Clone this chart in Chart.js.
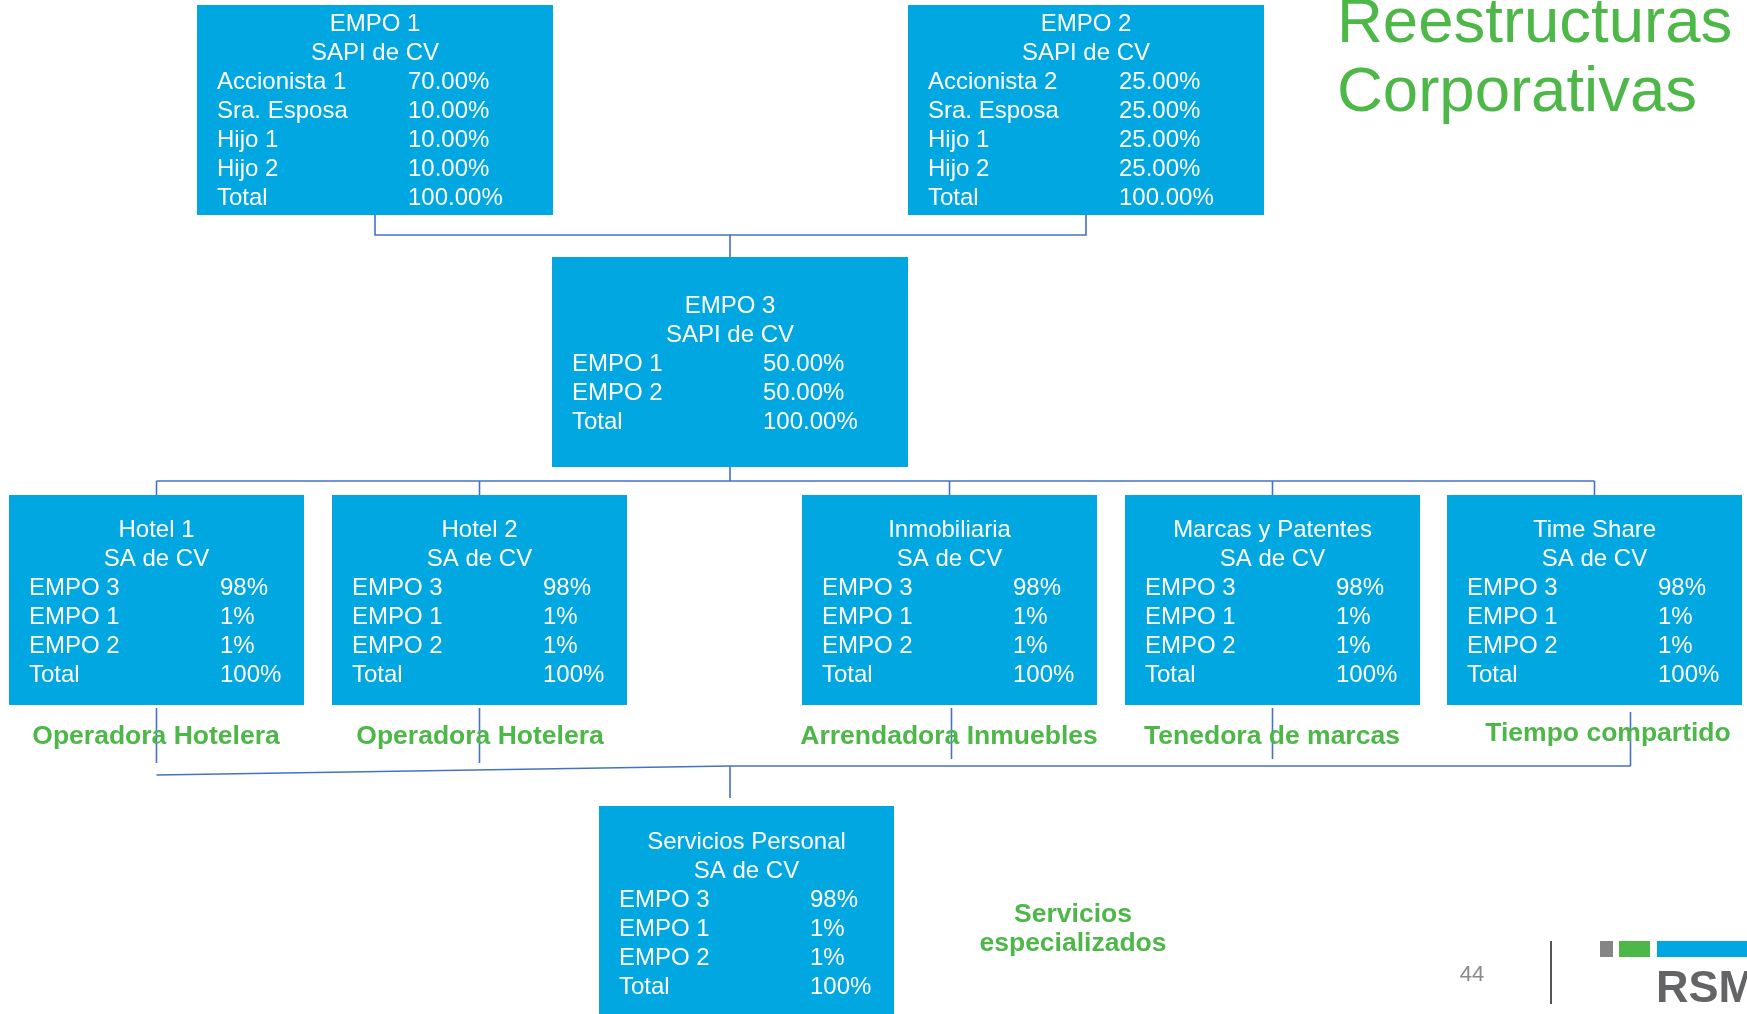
<!DOCTYPE html>
<html>
<head>
<meta charset="utf-8">
<script src="https://cdn.jsdelivr.net/npm/chart.js@4.4.1/dist/chart.umd.min.js"></script>
<style>
  html, body { margin: 0; padding: 0; background: #ffffff; }
  #wrap { width: 1747px; height: 1014px; }
</style>
</head>
<body>
<div id="wrap"><canvas id="orgChart" width="1747" height="1014"></canvas></div>
<script>
// Datos de las empresas
var empresas = ['EMPO 1', 'EMPO 2', 'EMPO 3', 'Hotel 1', 'Hotel 2', 'Inmobiliaria', 'Marcas y Patentes', 'Time Share', 'Servicios Personal'];
var tipos = ['SAPI de CV', 'SAPI de CV', 'SAPI de CV', 'SA de CV', 'SA de CV', 'SA de CV', 'SA de CV', 'SA de CV', 'SA de CV'];
var accionistas = [
    ['Accionista 1', 'Sra. Esposa', 'Hijo 1', 'Hijo 2'],
    ['Accionista 2', 'Sra. Esposa', 'Hijo 1', 'Hijo 2'],
    ['EMPO 1', 'EMPO 2'],
    ['EMPO 3', 'EMPO 1', 'EMPO 2'],
    ['EMPO 3', 'EMPO 1', 'EMPO 2'],
    ['EMPO 3', 'EMPO 1', 'EMPO 2'],
    ['EMPO 3', 'EMPO 1', 'EMPO 2'],
    ['EMPO 3', 'EMPO 1', 'EMPO 2'],
    ['EMPO 3', 'EMPO 1', 'EMPO 2']
];
var porcentajes = [
    [70, 10, 10, 10],
    [25, 25, 25, 25],
    [50, 50],
    [98, 1, 1],
    [98, 1, 1],
    [98, 1, 1],
    [98, 1, 1],
    [98, 1, 1],
    [98, 1, 1]
];
var decimales = [2, 2, 2, 0, 0, 0, 0, 0, 0];
var actividades = ['', '', '', 'Operadora Hotelera', 'Operadora Hotelera', 'Arrendadora Inmuebles', 'Tenedora de marcas', 'Tiempo compartido', 'Servicios especializados'];
var titulo = ['Reestructuras', 'Corporativas'];
var pagina = '44';

// Posiciones de las cajas (izq, arriba, der, abajo, y del nombre)
var cajas = [
    [197, 5, 553, 215, 24.5],
    [908, 5, 1264, 215, 24.5],
    [552, 257, 908, 467, 306.5],
    [9, 495, 304, 705, 530.5],
    [332, 495, 627, 705, 530.5],
    [802, 495, 1097, 705, 530.5],
    [1125, 495, 1420, 705, 530.5],
    [1447, 495, 1742, 705, 530.5],
    [599, 806, 894, 1020, 842.5]
];
var posActividad = [null, null, null, [156, 737], [480, 737], [949, 737], [1272, 737], [1608, 734], [1073, 915]];
// bajadas hacia Servicios Personal: [caja, desplazamiento x, y inicio, y fin]
var bajadas = [[3, 0, 708, 763], [4, 0, 708, 763], [5, 2, 708, 759], [6, 0, 708, 759], [7, 36, 712, 766]];

var azul = '#00A7E1';
var verde = '#4DB748';
var linea = '#4472C4';
var fuente = "'Liberation Sans', Arial, sans-serif";

function centro(i) { return (cajas[i][0] + cajas[i][2]) / 2; }

// Conectores
var segmentos = [];
segmentos.push([[centro(0), cajas[0][3]], [centro(0), 235], [centro(1), 235], [centro(1), cajas[1][3]]]);
segmentos.push([[centro(2), 235], [centro(2), cajas[2][1]]]);
segmentos.push([[centro(2), cajas[2][3]], [centro(2), 481]]);
segmentos.push([[centro(3), 481], [centro(7), 481]]);
for (var i = 3; i <= 7; i++) {
    segmentos.push([[centro(i), 481], [centro(i), cajas[i][1]]]);
}
bajadas.forEach(function (b) {
    segmentos.push([[centro(b[0]) + b[1], b[2]], [centro(b[0]) + b[1], b[3]]]);
});
segmentos.push([[centro(3), 775], [centro(2), 766], [centro(7) + 36, 766]]);
segmentos.push([[centro(2), 766], [centro(2), 798]]);

var datasets = segmentos.map(function (s) {
    return {
        data: s.map(function (p) { return { x: p[0], y: p[1] }; }),
        showLine: true,
        borderColor: linea,
        borderWidth: 1.6,
        pointRadius: 0,
        fill: false
    };
});

function fmt(v, d) { return v.toFixed(d) + '%'; }

var cajasPlugin = {
    id: 'cajas',
    beforeDatasetsDraw: function (chart) {
        var ctx = chart.ctx, sx = chart.scales.x, sy = chart.scales.y;
        ctx.save();
        cajas.forEach(function (c, i) {
            var x0 = sx.getPixelForValue(c[0]), x1 = sx.getPixelForValue(c[2]);
            var y0 = sy.getPixelForValue(c[1]), y1 = sy.getPixelForValue(c[3]);
            ctx.fillStyle = azul;
            ctx.fillRect(x0, y0, x1 - x0, y1 - y0);

            ctx.fillStyle = '#ffffff';
            ctx.font = '24px ' + fuente;
            ctx.textBaseline = 'middle';
            ctx.textAlign = 'center';
            var cx = sx.getPixelForValue(centro(i));
            var ty = c[4];
            ctx.fillText(empresas[i], cx, sy.getPixelForValue(ty));
            ctx.fillText(tipos[i], cx, sy.getPixelForValue(ty + 29));
            ctx.textAlign = 'left';
            var lx = sx.getPixelForValue(c[0] + 20), vx = sx.getPixelForValue(c[0] + 211);
            var total = 0;
            accionistas[i].forEach(function (a, k) {
                var yy = sy.getPixelForValue(ty + 58 + 29 * k);
                ctx.fillText(a, lx, yy);
                ctx.fillText(fmt(porcentajes[i][k], decimales[i]), vx, yy);
                total += porcentajes[i][k];
            });
            var yt = sy.getPixelForValue(ty + 58 + 29 * accionistas[i].length);
            ctx.fillText('Total', lx, yt);
            ctx.fillText(fmt(total, decimales[i]), vx, yt);
        });
        ctx.restore();
    },
    afterDatasetsDraw: function (chart) {
        var ctx = chart.ctx, sx = chart.scales.x, sy = chart.scales.y;
        ctx.save();
        // actividades
        ctx.fillStyle = verde;
        ctx.font = 'bold 26.5px ' + fuente;
        ctx.textAlign = 'center';
        ctx.textBaseline = 'middle';
        actividades.forEach(function (t, i) {
            if (!t) return;
            var p = posActividad[i];
            if (i === 8) {
                var partes = t.split(' ');
                ctx.fillText(partes[0], sx.getPixelForValue(p[0]), sy.getPixelForValue(p[1]));
                ctx.fillText(partes[1], sx.getPixelForValue(p[0]), sy.getPixelForValue(p[1] + 29));
            } else {
                ctx.fillText(t, sx.getPixelForValue(p[0]), sy.getPixelForValue(p[1]));
            }
        });
        // titulo
        ctx.font = '63.5px ' + fuente;
        ctx.textAlign = 'left';
        ctx.textBaseline = 'alphabetic';
        ctx.fillText(titulo[0], sx.getPixelForValue(1337), sy.getPixelForValue(42));
        ctx.fillText(titulo[1], sx.getPixelForValue(1337), sy.getPixelForValue(111));
        // pie de pagina
        ctx.fillStyle = '#8a8a8a';
        ctx.font = '22px ' + fuente;
        ctx.textAlign = 'center';
        ctx.textBaseline = 'middle';
        ctx.fillText(pagina, sx.getPixelForValue(1472), sy.getPixelForValue(975));
        ctx.strokeStyle = '#555555';
        ctx.lineWidth = 2;
        ctx.beginPath();
        ctx.moveTo(sx.getPixelForValue(1551), sy.getPixelForValue(941));
        ctx.lineTo(sx.getPixelForValue(1551), sy.getPixelForValue(1004));
        ctx.stroke();
        ctx.fillStyle = '#858585';
        ctx.fillRect(sx.getPixelForValue(1600), sy.getPixelForValue(941), 13, 16);
        ctx.fillStyle = verde;
        ctx.fillRect(sx.getPixelForValue(1619), sy.getPixelForValue(941), 31, 16);
        ctx.fillStyle = azul;
        ctx.fillRect(sx.getPixelForValue(1657), sy.getPixelForValue(941), 95, 16);
        ctx.fillStyle = '#636466';
        ctx.font = 'bold 45px ' + fuente;
        ctx.textAlign = 'left';
        ctx.textBaseline = 'alphabetic';
        ctx.fillText('RSM', sx.getPixelForValue(1656), sy.getPixelForValue(1002));
        ctx.restore();
    }
};

var orgChart = new Chart(document.getElementById('orgChart'), {
    type: 'scatter',
    data: { datasets: datasets },
    options: {
        responsive: false,
        animation: false,
        devicePixelRatio: 1,
        layout: { padding: 0 },
        plugins: { legend: { display: false }, tooltip: { enabled: false } },
        scales: {
            x: { type: 'linear', min: 0, max: 1747, display: false },
            y: { type: 'linear', min: 0, max: 1014, reverse: true, display: false }
        }
    },
    plugins: [cajasPlugin]
});
</script>
</body>
</html>
